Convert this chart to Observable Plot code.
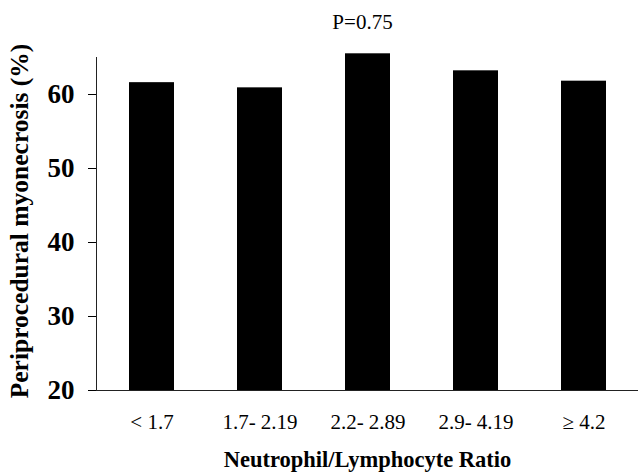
<!DOCTYPE html>
<html>
<head>
<meta charset="utf-8">
<script src="https://cdn.jsdelivr.net/npm/d3@7"></script>
<script src="https://cdn.jsdelivr.net/npm/@observablehq/plot@0.6"></script>
<style>
  html, body { margin: 0; padding: 0; background: #fff; }
  svg { display: block; }
</style>
</head>
<body>
<div id="chart"></div>
<script>
const categories = ["< 1.7", "1.7- 2.19", "2.2- 2.89", "2.9- 4.19", "≥ 4.2"];
const values = [61.6, 60.9, 65.5, 63.2, 61.8];
const yTicks = [20, 30, 40, 50, 60];
const pValue = "P=0.75";
const xTitle = "Neutrophil/Lymphocyte Ratio";
const yTitle = "Periprocedural myonecrosis (%)";

const data = categories.map((c, i) => ({category: c, value: values[i]}));
const serif = "'Liberation Serif', 'Times New Roman', serif";

const chart = Plot.plot({
  width: 638,
  height: 473,
  marginTop: 57,
  marginBottom: 83,
  marginLeft: 96,
  marginRight: 0,
  style: {fontFamily: serif, color: "#000", background: "#fff"},
  x: {domain: categories, paddingInner: 0.587, paddingOuter: 0.293},
  y: {domain: [20, 65]},
  marks: [
    Plot.barY(data, {x: "category", y1: 20, y2: "value", fill: "#000"}),
    Plot.axisY({ticks: yTicks, tickSize: 8, tickPadding: 14, fontSize: 27, fontWeight: "bold", label: null}),
    Plot.axisX({tickSize: 0, tickPadding: 24, fontSize: 21, label: null}),
    Plot.frame({anchor: "left", stroke: "#222"}),
    Plot.ruleY([20], {stroke: "#222"}),
    Plot.text([pValue], {frameAnchor: "top", lineAnchor: "middle", dx: -5, dy: -35, fontSize: 21, text: d => d}),
    Plot.text([xTitle], {frameAnchor: "bottom", lineAnchor: "middle", dy: 69, fontSize: 22.5, fontWeight: "bold", text: d => d}),
    Plot.text([yTitle], {frameAnchor: "left", textAnchor: "middle", lineAnchor: "middle", dx: -77, dy: -3, rotate: -90, fontSize: 25.5, fontWeight: "bold", text: d => d})
  ]
});
document.getElementById("chart").append(chart);
</script>
</body>
</html>
